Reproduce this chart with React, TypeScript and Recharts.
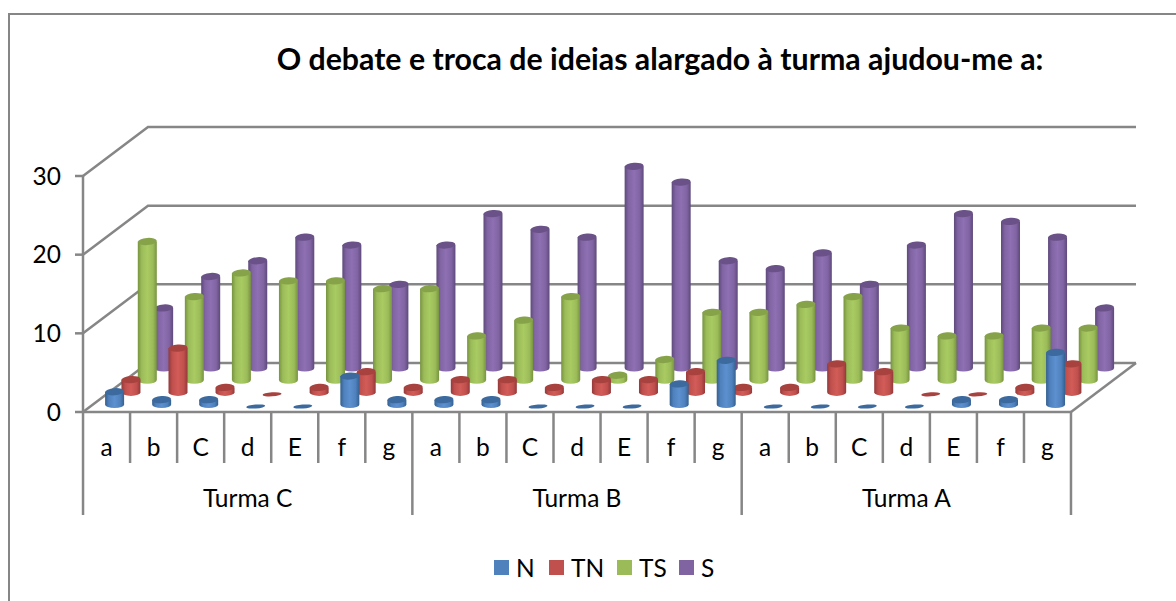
import { BarChart, Bar, XAxis, YAxis, CartesianGrid, Legend } from "recharts";

const LETTERS = ["a", "b", "C", "d", "E", "f", "g"];
const GROUPS = ["Turma C", "Turma B", "Turma A"];
const SERIES_NAMES = ["N", "TN", "TS", "S"];

const N_VALUES = [2, 1, 1, 0, 0, 4, 1, 1, 1, 0, 0, 0, 3, 6, 0, 0, 0, 0, 1, 1, 7];
const TN_VALUES = [2, 6, 1, 0, 1, 3, 1, 2, 2, 1, 2, 2, 3, 1, 1, 4, 3, 0, 0, 1, 4];
const TS_VALUES = [18, 11, 14, 13, 13, 12, 12, 6, 8, 11, 1, 3, 9, 9, 10, 11, 7, 6, 6, 7, 7];
const S_VALUES = [8, 12, 14, 17, 16, 11, 16, 20, 18, 17, 26, 24, 14, 13, 15, 11, 16, 20, 19, 17, 8];
const Y_TICKS = [0, 10, 20, 30];

const rows = N_VALUES.map((_, i) => ({
  id: i,
  letter: LETTERS[i % 7],
  group: GROUPS[Math.floor(i / 7)],
  N: N_VALUES[i],
  TN: TN_VALUES[i],
  TS: TS_VALUES[i],
  S: S_VALUES[i],
}));

const AXIS = "#868686";
const FONT = "Lato, sans-serif";
const TEXT_SIZE = 24.5;
const LINE_W = 2.5;
const DEPTH_X = 65;
const DEPTH_Y = 49;
const FLOOR_Y = 412;
const BAR_W = 19;

// base, shadow edge, highlight, top cap
const SHADES = [
  ["#4f81bd", "#35608f", "#5c90cf", "#3c6a9f"],
  ["#c0504d", "#93393a", "#d25c58", "#a8423f"],
  ["#9bbb59", "#77933f", "#a9cb62", "#86a349"],
  ["#8064a2", "#5e497b", "#8e70b3", "#6a5288"],
];

function Cylinder(props: any) {
  const { x, y, width, height, slot } = props;
  const cx = x + width / 2 + 8.1 + slot * 16.35;
  const shift = -7.5 - slot * 12.2;
  // excel draws the cap a little under the true value
  const top = y + shift + 3;
  const base = y + height + shift;
  const r = width / 2;
  const ry = 3.6;
  if (height < 1) {
    return (
      <ellipse
        cx={cx}
        cy={base + 2}
        rx={r}
        ry={2}
        fill={SHADES[slot][3]}
        transform={`rotate(-4 ${cx} ${base + 2})`}
      />
    );
  }
  return (
    <g>
      <path
        d={`M${cx - r},${top} L${cx - r},${base} A${r},${ry} 0 0 0 ${cx + r},${base} L${cx + r},${top} Z`}
        fill={`url(#cyl-${slot})`}
      />
      <ellipse
        cx={cx}
        cy={top}
        rx={r}
        ry={ry}
        fill={SHADES[slot][3]}
        transform={`rotate(-4 ${cx} ${top})`}
      />
    </g>
  );
}

function GridLine(props: any) {
  const { x1, x2, y1 } = props;
  const back = y1 - DEPTH_Y;
  return (
    <g>
      <polyline
        points={`${x1},${y1} ${x1 + DEPTH_X},${back} ${x2 + DEPTH_X},${back}`}
        fill="none"
        stroke={AXIS}
        strokeWidth={LINE_W}
      />
      {y1 === FLOOR_Y && (
        <line x1={x2} y1={y1} x2={x2 + DEPTH_X} y2={back} stroke={AXIS} strokeWidth={LINE_W} />
      )}
    </g>
  );
}

function CategoryTick(props: any) {
  const { x, index } = props;
  const row = rows[index];
  const left = x - 23.5;
  const startsGroup = index % 7 === 0;
  return (
    <g>
      <line x1={left} y1={FLOOR_Y} x2={left} y2={startsGroup ? 515 : 463} stroke={AXIS} strokeWidth={LINE_W} />
      {index === rows.length - 1 && (
        <line x1={x + 23.5} y1={FLOOR_Y} x2={x + 23.5} y2={515} stroke={AXIS} strokeWidth={LINE_W} />
      )}
      <text x={x} y={456} textAnchor="middle" fontSize={TEXT_SIZE} fontFamily={FONT} fill="#000">
        {row.letter}
      </text>
      {index % 7 === 3 && (
        <text x={x} y={507} textAnchor="middle" fontSize={TEXT_SIZE} fontFamily={FONT} fill="#000">
          {row.group}
        </text>
      )}
    </g>
  );
}

const LEGEND_WIDTHS = [55, 68, 62, 40];

function ChartLegend() {
  return (
    <div style={{ display: "flex", paddingLeft: 494, paddingTop: 39, fontFamily: FONT, fontSize: TEXT_SIZE, color: "#000" }}>
      {SERIES_NAMES.map((name, i) => (
        <div key={name} style={{ width: LEGEND_WIDTHS[i], display: "flex", alignItems: "center", height: 26 }}>
          <span style={{ width: 15, height: 15, background: SHADES[i][0], marginRight: 7 }} />
          {name}
        </div>
      ))}
    </div>
  );
}

export default function App() {
  return (
    <div style={{ position: "absolute", left: 0, top: 0, width: 1176, height: 601, background: "#fff", overflow: "hidden" }}>
      <div style={{ position: "absolute", left: 8, top: 13, right: -4, bottom: -4, border: `2.5px solid ${AXIS}`, borderRight: "none", borderBottom: "none" }} />
      <div
        style={{
          position: "absolute",
          left: 160,
          width: 1000,
          top: 40,
          textAlign: "center",
          fontFamily: FONT,
          fontWeight: 700,
          fontSize: 30.3,
          color: "#000",
          whiteSpace: "nowrap",
        }}
      >
        O debate e troca de ideias alargado à turma ajudou-me a:
      </div>
      <BarChart
        width={1176}
        height={601}
        data={rows}
        barSize={BAR_W}
        barGap={-BAR_W}
        margin={{ top: 176, right: 105, left: 23, bottom: 0 }}
        style={{ position: "absolute", left: 0, top: 0 }}
      >
        <defs>
          {SHADES.map((s, i) => (
            <linearGradient key={i} id={`cyl-${i}`} x1="0" y1="0" x2="1" y2="0">
              <stop offset="0" stopColor={s[1]} />
              <stop offset="0.2" stopColor={s[0]} />
              <stop offset="0.5" stopColor={s[2]} />
              <stop offset="0.8" stopColor={s[0]} />
              <stop offset="1" stopColor={s[1]} />
            </linearGradient>
          ))}
        </defs>
        <CartesianGrid vertical={false} horizontal={(p: any) => <GridLine key={p.key} {...p} />} />
        <XAxis
          dataKey="id"
          type="category"
          height={103}
          interval={0}
          tickLine={false}
          axisLine={{ stroke: AXIS, strokeWidth: LINE_W }}
          tick={(p: any) => <CategoryTick {...p} />}
        />
        <YAxis
          width={60}
          domain={[0, 30]}
          ticks={Y_TICKS}
          tickSize={8}
          tickMargin={14}
          tickLine={{ stroke: AXIS, strokeWidth: LINE_W }}
          axisLine={{ stroke: AXIS, strokeWidth: LINE_W }}
          tick={{ fontSize: TEXT_SIZE, fontFamily: FONT, fill: "#000" }}
        />
        <Legend
          height={86}
          wrapperStyle={{ left: 0, width: 1176, bottom: 0 }}
          content={() => <ChartLegend />}
        />
        {[3, 2, 1, 0].map((slot) => (
          <Bar
            key={SERIES_NAMES[slot]}
            dataKey={SERIES_NAMES[slot]}
            fill={SHADES[slot][0]}
            isAnimationActive={false}
            shape={(p: any) => <Cylinder {...p} slot={slot} />}
          />
        ))}
      </BarChart>
    </div>
  );
}
